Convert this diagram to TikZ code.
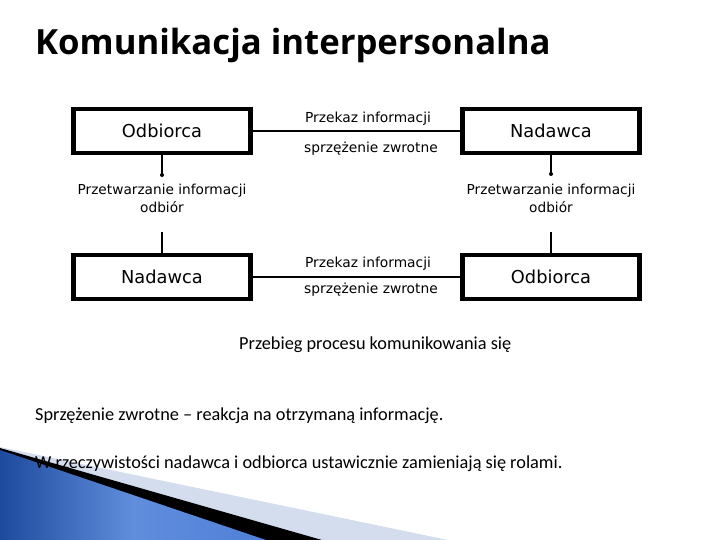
\documentclass[tikz,border=0pt]{standalone}
\usepackage{fontspec}
\setmainfont{DejaVu Sans}
\newfontfamily\titlefont{Open Sans}
\newfontfamily\bodyfont{Carlito}
\usetikzlibrary{calc}
\definecolor{lightband}{HTML}{D3DDEE}
\definecolor{blueA}{HTML}{1E4A9E}
\definecolor{blueB}{HTML}{4F80D8}
\tikzset{
  rolebox/.style={draw, line width=4.4pt, minimum width=177pt, minimum height=43.5pt, font=\fontsize{17.8}{20}\selectfont, inner sep=0pt},
  linklabel/.style={font=\fontsize{13.8}{16}\selectfont, inner sep=0pt},
  proclabel/.style={font=\fontsize{13.7}{18}\selectfont, align=center, inner sep=0pt},
  link/.style={line width=2pt},
  bodytext/.style={font=\bodyfont\fontsize{18.3}{21}\selectfont, anchor=west, inner sep=0pt},
}
\begin{document}
\begin{tikzpicture}[x=1pt,y=1pt]
\useasboundingbox (0,0) rectangle (720,-540);
% decoration bottom-left
\fill[lightband] (0,-447) -- (448,-540) -- (0,-540) -- cycle;
\fill[black] (0,-448) -- (322,-540) -- (0,-540) -- cycle;
\shade[left color=blueA, right color=blueB, middle color=blueB!90] (0,-450) -- (266,-540) -- (0,-540) -- cycle;
% title
\node[anchor=base west, inner sep=0pt, font=\titlefont\bfseries\fontsize{34.7}{38}\selectfont] (title) at (35,-55) {Komunikacja interpersonalna};
% boxes
\node[rolebox] (odb1) at (162,-131) {Odbiorca};
\node[rolebox] (nad1) at (551,-131) {Nadawca};
\node[rolebox] (nad2) at (162,-277) {Nadawca};
\node[rolebox] (odb2) at (551,-277) {Odbiorca};
% horizontal links
\draw[link] (odb1.east) -- (nad1.west);
\draw[link] (nad2.east) -- (odb2.west);
\node[linklabel] (pi1) at (368,-119) {Przekaz informacji};
\node[linklabel] (sz1) at (371,-149) {sprzężenie zwrotne};
\node[linklabel] (pi2) at (368,-264) {Przekaz informacji};
\node[linklabel] (sz2) at (371,-290) {sprzężenie zwrotne};
% processing labels
\node[proclabel] (pr1) at (162,-198) {Przetwarzanie informacji\\odbiór};
\node[proclabel] (pr2) at (551,-198) {Przetwarzanie informacji\\odbiór};
\coordinate (d1) at (162,-175);
\coordinate (u1) at (162,-232);
\coordinate (d2) at (551,-174);
\coordinate (u2) at (551,-232);
\draw[link] (odb1.south) -- (d1);
\fill (d1) circle (2pt);
\draw[link] (u1) -- (nad2.north);
\draw[link] (nad1.south) -- (d2);
\fill (d2) circle (2pt);
\draw[link] (u2) -- (odb2.north);
% captions
\node[bodytext] (cap) at (239,-345) {Przebieg procesu komunikowania się};
\node[bodytext] (t1) at (35,-416) {Sprzężenie zwrotne – reakcja na otrzymaną informację.};
\node[bodytext] (t2) at (35,-464) {W rzeczywistości nadawca i odbiorca ustawicznie zamieniają się rolami.};
\end{tikzpicture}
\end{document}
